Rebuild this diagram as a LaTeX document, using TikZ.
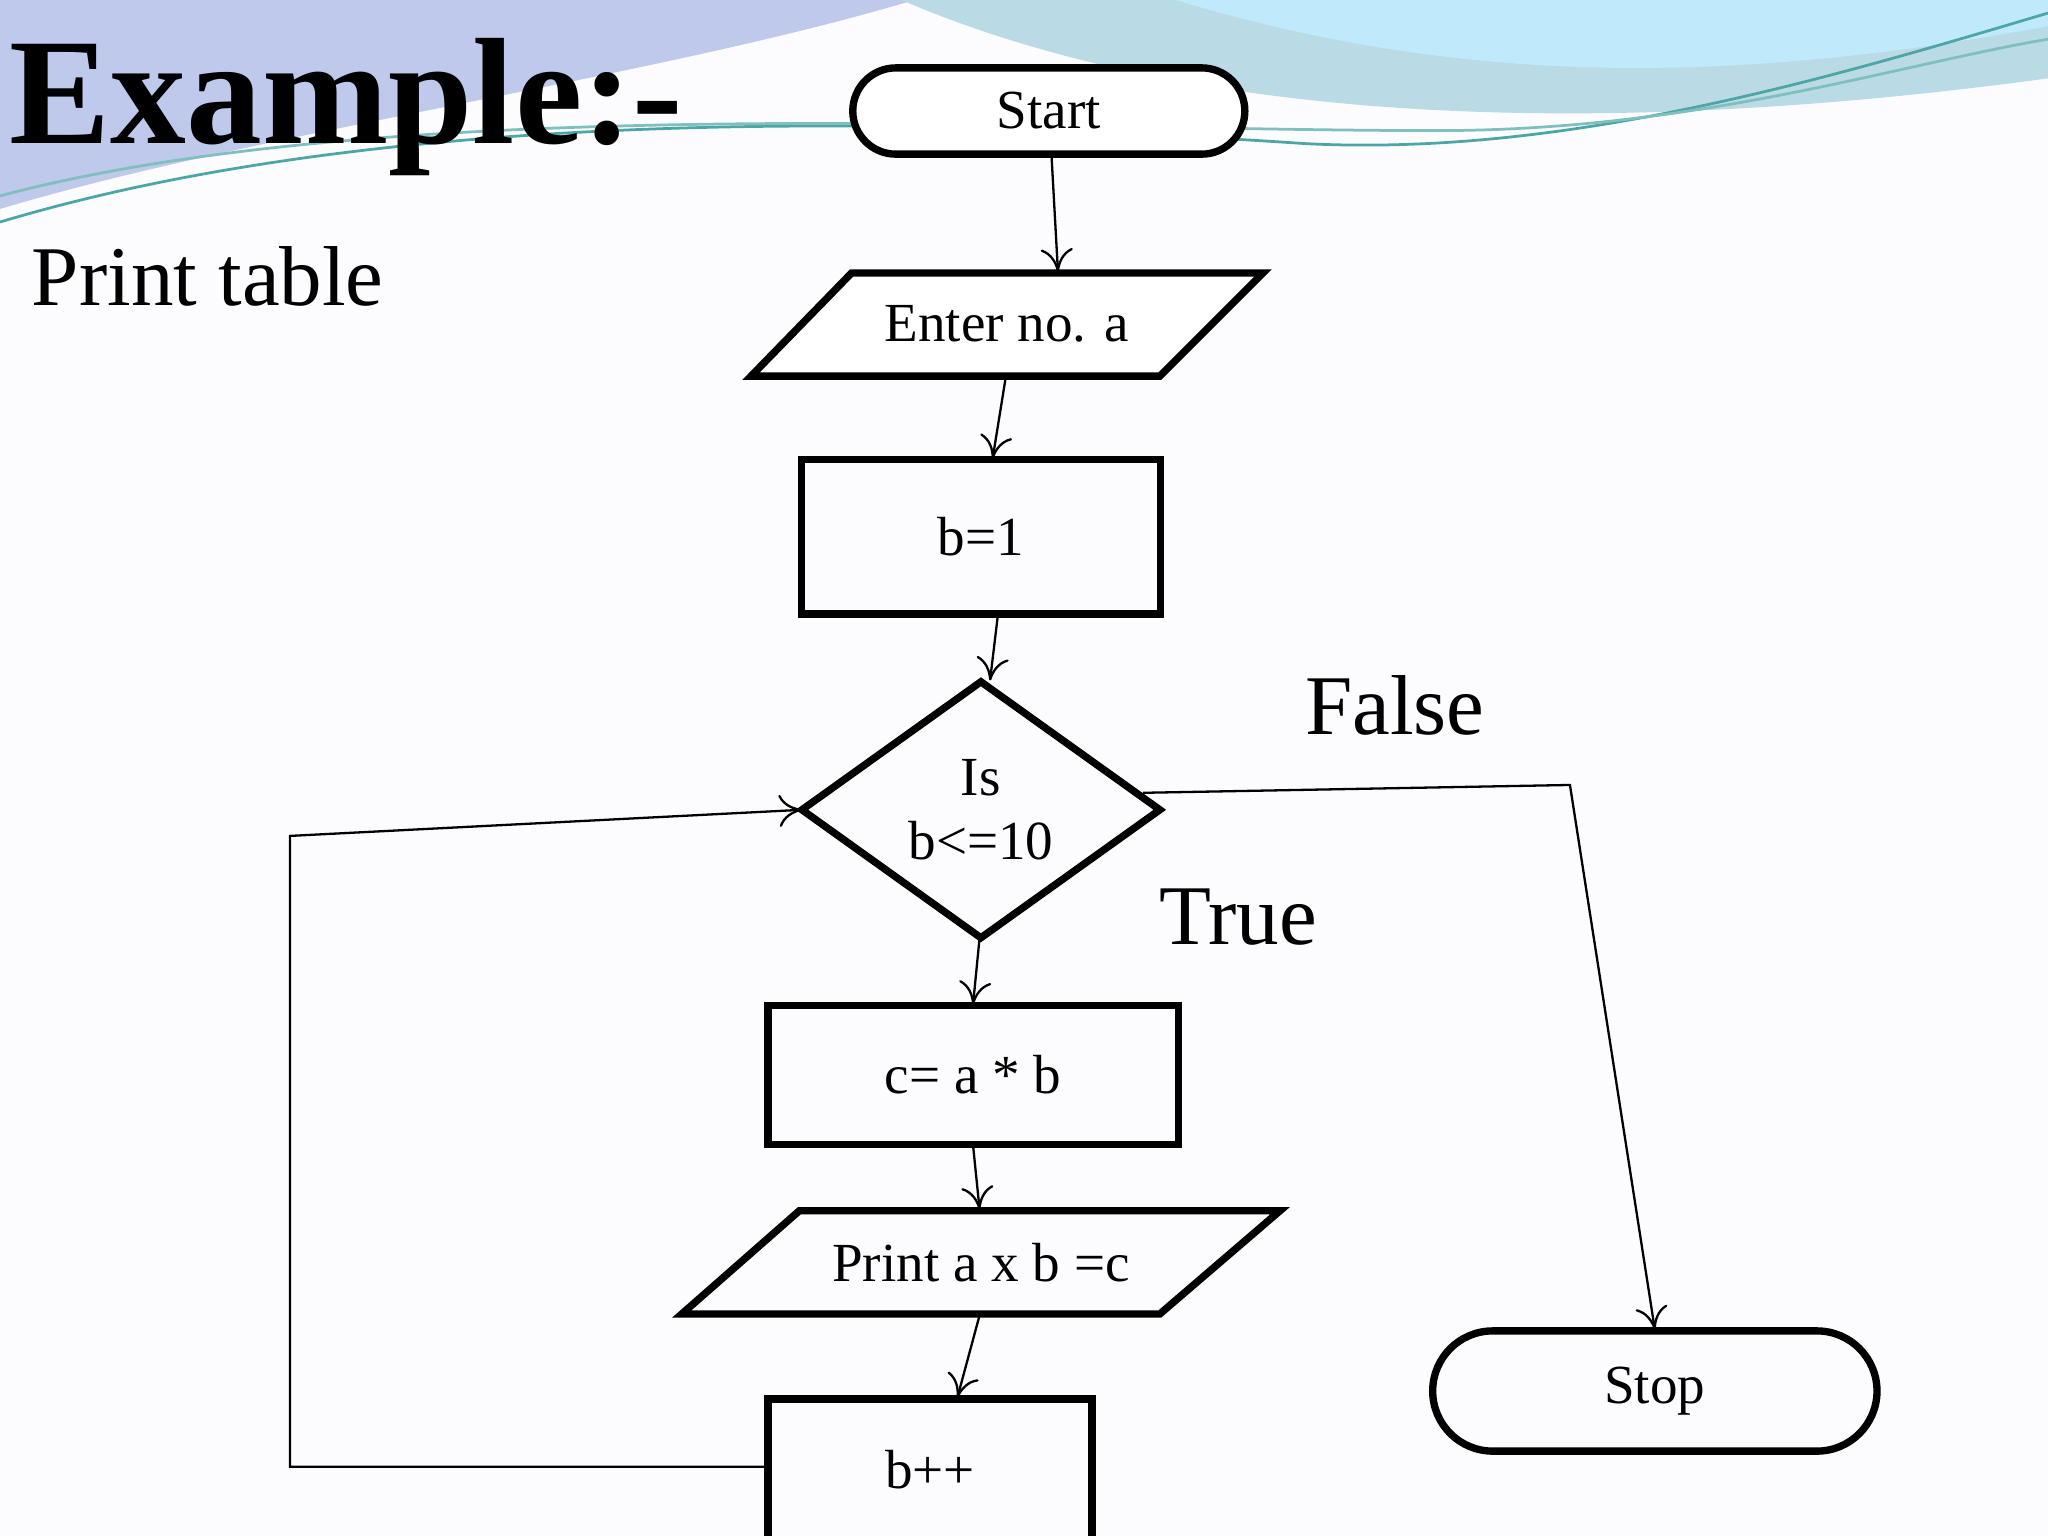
\documentclass[tikz,border=0pt]{standalone}
\usepackage{fontspec}
\setmainfont{Liberation Serif}
\usetikzlibrary{shapes.geometric,shapes.misc,arrows.meta}
\begin{document}
\begin{tikzpicture}[x=0.01cm,y=-0.01cm,
  shp/.style={draw,line width=1.6pt},
  lbl/.style={font=\fontsize{12}{14}\selectfont},
  big/.style={font=\fontsize{18.5}{20}\selectfont},
  con/.style={line width=0.5pt,-{To[length=5pt,width=7pt]}}]
\useasboundingbox (0,0) rectangle (1568,1176);
\fill[white!95!gray!60!blue!3] (0,0) rectangle (1568,1176);
% waves
\fill[cyan!40!blue!25!white] (0,0) -- (700,0) .. controls (500,60) and (200,100) .. (0,160) -- cycle;
\fill[cyan!35!teal!30] (690,0) .. controls (900,90) and (1200,110) .. (1568,60) -- (1568,0) -- cycle;
\fill[cyan!25] (900,0) .. controls (1100,60) and (1300,70) .. (1568,20) -- (1568,0) -- cycle;
\draw[teal!70,line width=0.6pt] (0,170) .. controls (300,80) and (700,90) .. (1000,110) .. controls (1200,120) and (1400,60) .. (1568,10);
\draw[teal!50,line width=0.6pt] (0,150) .. controls (300,70) and (800,100) .. (1100,100) .. controls (1300,100) and (1450,50) .. (1568,30);
\node[anchor=west,font=\fontsize{33}{36}\selectfont\bfseries] (title) at (-5,82) {Example:-};
\node[anchor=west,big] (sub) at (12,212) {Print table};
% shapes
\node[shp,rounded rectangle,inner sep=0pt,minimum width=3cm,minimum height=0.66cm,lbl,fill=white] (start) at (803,85) {Start};
\draw[shp,fill=white] (575,288) -- (652,209) -- (967,209) -- (888,288) -- cycle;
\node[lbl] (enter) at (771,248) {Enter no. a};
\node[shp,minimum width=2.75cm,minimum height=1.18cm,lbl] (b1) at (751,411) {b=1};
\draw[shp] (614,620) -- (751,522) -- (888,620) -- (751,718) -- cycle;
\node[lbl,align=center] (dec) at (751,620) {Is\\b<=10};
\node[shp,minimum width=3.14cm,minimum height=1.06cm,lbl] (c) at (745,823) {c= a * b};
\draw[shp] (522,1006) -- (612,927) -- (980,927) -- (888,1006) -- cycle;
\node[lbl] (print) at (751,967) {Print a x b =c};
\draw[shp] (588,1190) -- (588,1071) -- (836,1071) -- (836,1190);
\node[lbl] (binc) at (712,1125) {b++};
\node[shp,rounded rectangle,inner sep=0pt,minimum width=3.4cm,minimum height=0.92cm,lbl] (stop) at (1267,1065) {Stop};
\node[big] (false) at (1068,540) {False};
\node[big] (true) at (948,702) {True};
% connectors
\coordinate (s1) at (805,118); \coordinate (e1) at (810,208);
\coordinate (s2) at (770,289); \coordinate (e2) at (760,351);
\coordinate (s3) at (764,471); \coordinate (e3) at (758,521);
\coordinate (s4) at (750,718); \coordinate (e4) at (745,769);
\coordinate (s5) at (745,877); \coordinate (e5) at (750,926);
\coordinate (s6) at (750,1007); \coordinate (e6) at (733,1070);
\coordinate (l0) at (587,1123); \coordinate (l1) at (222,1123); \coordinate (l2) at (222,640); \coordinate (l3) at (614,620);
\coordinate (f0) at (875,607); \coordinate (f1) at (1202,601); \coordinate (f2) at (1267,1018);
\draw[con] (s1) -- (e1);
\draw[con] (s2) -- (e2);
\draw[con] (s3) -- (e3);
\draw[con] (s4) -- (e4);
\draw[con] (s5) -- (e5);
\draw[con] (s6) -- (e6);
\draw[con] (l0) -- (l1) -- (l2) -- (l3);
\draw[con] (f0) -- (f1) -- (f2);
\end{tikzpicture}
\end{document}
